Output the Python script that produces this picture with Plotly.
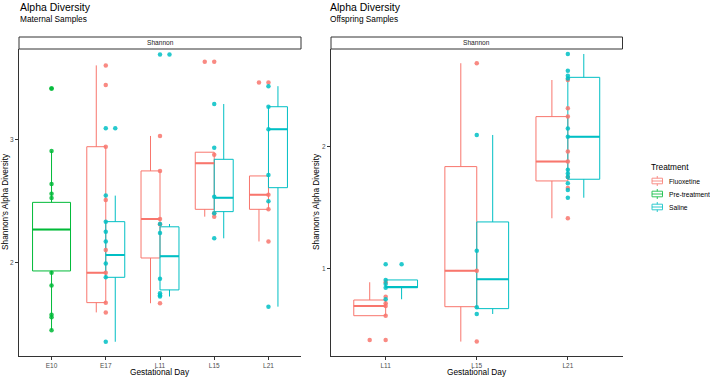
import plotly.graph_objects as go

# ---------------- data ----------------
treatments = ["Fluoxetine", "Pre-treatment", "Saline"]
colors = {"Fluoxetine": "#F8766D", "Pre-treatment": "#00BA38", "Saline": "#00BFC4"}

# Maternal samples
mat_days = ["E10", "E17", "L11", "L15", "L21"]
mat_pre_days = ["E10"]
mat_pre_q1 = [1.929]
mat_pre_med = [2.267]
mat_pre_q3 = [2.49]
mat_pre_lo = [1.444]
mat_pre_hi = [2.91]
mat_pre_pts = [[3.42, 2.91, 2.64, 2.56, 2.526, 1.915, 1.81, 1.57, 1.55, 1.444]]

mat_flx_days = ["E17", "L11", "L15", "L21"]
mat_flx_q1 = [1.67, 2.035, 2.433, 2.433]
mat_flx_med = [1.915, 2.354, 2.81, 2.553]
mat_flx_q3 = [2.945, 2.747, 2.90, 2.706]
mat_flx_lo = [1.59, 1.665, 2.373, 2.17]
mat_flx_hi = [3.61, 3.033, 2.90, 2.706]
mat_flx_pts = [
    [3.61, 3.45, 2.945, 2.51, 2.10, 1.915, 1.67, 1.59],
    [3.033, 2.747, 2.354, 2.31, 1.665],
    [3.64, 2.88, 2.40, 2.373],
    [3.47, 2.553, 2.433, 2.17],
]

mat_sal_days = ["E17", "L11", "L15", "L21"]
mat_sal_q1 = [1.877, 1.774, 2.414, 2.61]
mat_sal_med = [2.06, 2.05, 2.528, 3.087]
mat_sal_q3 = [2.332, 2.29, 2.842, 3.272]
mat_sal_lo = [1.35, 1.72, 2.196, 1.637]
mat_sal_hi = [2.545, 2.313, 3.294, 3.44]
mat_sal_pts = [
    [3.095, 2.545, 2.332, 2.25, 2.17, 1.99, 1.877, 1.35],
    [3.70, 2.313, 2.24, 1.866, 1.746, 1.73, 1.72],
    [3.294, 2.937, 2.536, 2.40, 2.196],
    [3.44, 3.272, 3.087, 2.714, 2.50, 1.637],
]

# Offspring samples
off_days = ["L11", "L15", "L21"]
off_flx_days = ["L11", "L15", "L21"]
off_flx_q1 = [0.61, 0.684, 1.718]
off_flx_med = [0.69, 0.98, 1.877]
off_flx_q3 = [0.739, 1.836, 2.247]
off_flx_lo = [0.61, 0.397, 1.411]
off_flx_hi = [0.885, 2.686, 2.548]
off_flx_pts = [
    [0.885, 0.766, 0.712, 0.69, 0.61, 0.41],
    [2.686, 0.98, 0.397],
    [2.548, 2.315, 2.247, 1.96, 1.877, 1.75, 1.66, 1.411],
]

off_sal_days = ["L11", "L15", "L21"]
off_sal_q1 = [0.84, 0.668, 1.732]
off_sal_med = [0.845, 0.909, 2.082]
off_sal_q3 = [0.904, 1.381, 2.57]
off_sal_lo = [0.745, 0.624, 1.58]
off_sal_hi = [0.904, 2.096, 2.762]
off_sal_pts = [
    [1.033, 0.904, 0.87, 0.84, 0.745],
    [2.096, 1.145, 0.68, 0.624],
    [2.762, 2.625, 2.584, 2.56, 2.15, 2.082, 1.81, 1.78, 1.75, 1.70, 1.644, 1.58],
]

# ---------------- figure ----------------
W, H = 710, 378
fig = go.Figure()

DODGE = 0.35
offsets = {"Fluoxetine": -DODGE / 2, "Pre-treatment": 0.0, "Saline": DODGE / 2}


def add_group(name, days, all_days, q1, med, q3, lo, hi, pts, xa, ya, alone=False):
    col = colors[name]
    idx = [all_days.index(d) for d in days]
    off = 0.0 if alone else offsets[name]
    w = 2 * DODGE if alone else DODGE
    pos = [i + off for i in idx]
    fig.add_trace(go.Box(
        x=pos, q1=q1, median=med, q3=q3, lowerfence=lo, upperfence=hi,
        width=w, whiskerwidth=0, boxpoints=False,
        line=dict(color=col, width=1), fillcolor="rgba(255,255,255,0)",
        name=name, legendgroup=name, showlegend=False,
        xaxis=xa, yaxis=ya, hoverinfo="skip",
    ))
    # thicker median segments
    mx, my = [], []
    for p, m in zip(pos, med):
        mx += [p - w / 2, p + w / 2, None]
        my += [m, m, None]
    fig.add_trace(go.Scatter(x=mx, y=my, mode="lines", line=dict(color=col, width=2),
                             showlegend=False, xaxis=xa, yaxis=ya, hoverinfo="skip"))
    # outliers at box centre
    ox, oy = [], []
    for p, l, h, vals in zip(pos, lo, hi, pts):
        for v in vals:
            if v > h + 1e-9 or v < l - 1e-9:
                ox.append(p)
                oy.append(v)
    # all points at category centre
    px, py = [], []
    for i, vals in zip(idx, pts):
        for v in vals:
            px.append(i)
            py.append(v)
    fig.add_trace(go.Scatter(x=ox + px, y=oy + py, mode="markers",
                             marker=dict(color=col, size=4.5, opacity=0.85, line=dict(width=0)),
                             showlegend=False, xaxis=xa, yaxis=ya, hoverinfo="skip"))


add_group("Fluoxetine", mat_flx_days, mat_days, mat_flx_q1, mat_flx_med, mat_flx_q3,
          mat_flx_lo, mat_flx_hi, mat_flx_pts, "x", "y")
add_group("Pre-treatment", mat_pre_days, mat_days, mat_pre_q1, mat_pre_med, mat_pre_q3,
          mat_pre_lo, mat_pre_hi, mat_pre_pts, "x", "y", alone=True)
add_group("Saline", mat_sal_days, mat_days, mat_sal_q1, mat_sal_med, mat_sal_q3,
          mat_sal_lo, mat_sal_hi, mat_sal_pts, "x", "y")
add_group("Fluoxetine", off_flx_days, off_days, off_flx_q1, off_flx_med, off_flx_q3,
          off_flx_lo, off_flx_hi, off_flx_pts, "x2", "y2")
add_group("Saline", off_sal_days, off_days, off_sal_q1, off_sal_med, off_sal_q3,
          off_sal_lo, off_sal_hi, off_sal_pts, "x2", "y2")

FONT = "Liberation Sans, Arial, sans-serif"
axis_common = dict(showline=True, linecolor="#333333", linewidth=1, ticks="outside",
                   ticklen=3, tickwidth=1, tickcolor="#333333",
                   tickfont=dict(size=6.5, color="#4D4D4D", family=FONT),
                   showgrid=False, zeroline=False, mirror=False)

L0, L1 = 19, 301
R0, R1 = 331, 622.5
TOP, BOT = 49, 355.7
ydom = [(H - BOT) / H, (H - TOP) / H]

fig.update_layout(
    width=W, height=H, autosize=False,
    margin=dict(l=0, r=0, t=0, b=0),
    paper_bgcolor="white", plot_bgcolor="white",
    font=dict(family=FONT, color="black"),
    xaxis=dict(axis_common, domain=[L0 / W, L1 / W], range=[-0.6, len(mat_days) - 0.4],
               tickvals=list(range(len(mat_days))), ticktext=mat_days, anchor="y"),
    yaxis=dict(axis_common, domain=ydom, range=[1.236, 3.744], tickvals=[2, 3],
               ticktext=["2", "3"], anchor="x"),
    xaxis2=dict(axis_common, domain=[R0 / W, R1 / W], range=[-0.6, len(off_days) - 0.4],
                tickvals=list(range(len(off_days))), ticktext=off_days, anchor="y2"),
    yaxis2=dict(axis_common, domain=ydom, range=[0.281, 2.803], tickvals=[1, 2],
                ticktext=["1", "2"], anchor="x2"),
    showlegend=False,
)


def px_x(v):
    return v / W


def px_y(v):
    return (H - v) / H


# strips
for x0, x1 in [(L0, L1), (R0, R1)]:
    fig.add_shape(type="rect", xref="paper", yref="paper", x0=px_x(x0), x1=px_x(x1),
                  y0=px_y(TOP), y1=px_y(37), line=dict(color="#333333", width=1),
                  fillcolor="white", layer="above")
    fig.add_annotation(x=px_x((x0 + x1) / 2), y=px_y(43), xref="paper", yref="paper",
                       text="Shannon", showarrow=False, font=dict(size=6.6, color="#1A1A1A"),
                       xanchor="center", yanchor="middle")

# titles and subtitles
for x0, sub in [(L0 + 1, "Maternal Samples"), (R0 - 1, "Offspring Samples")]:
    fig.add_annotation(x=px_x(x0 - 2), y=px_y(6.5), xref="paper", yref="paper",
                       text="Alpha Diversity", showarrow=False, font=dict(size=10.5),
                       xanchor="left", yanchor="middle")
    fig.add_annotation(x=px_x(x0 - 2), y=px_y(18.5), xref="paper", yref="paper",
                       text=sub, showarrow=False, font=dict(size=8.3),
                       xanchor="left", yanchor="middle")

# axis titles
for cx in [(L0 + L1) / 2, (R0 + R1) / 2]:
    fig.add_annotation(x=px_x(cx), y=px_y(372), xref="paper", yref="paper",
                       text="Gestational Day", showarrow=False, font=dict(size=8.3),
                       xanchor="center", yanchor="middle")
for cx in [5, 316]:
    fig.add_annotation(x=px_x(cx), y=px_y(202), xref="paper", yref="paper",
                       text="Shannon's Alpha Diversity", showarrow=False, font=dict(size=8.3),
                       textangle=-90, xanchor="center", yanchor="middle")

# legend (ggplot style keys)
fig.add_annotation(x=px_x(649), y=px_y(166.5), xref="paper", yref="paper",
                   text="Treatment", showarrow=False, font=dict(size=8.3),
                   xanchor="left", yanchor="middle")
for k, name in enumerate(treatments):
    cy = 181 + 13 * k
    col = colors[name]
    fig.add_shape(type="rect", xref="paper", yref="paper",
                  x0=px_x(652), x1=px_x(662.5), y0=px_y(cy + 2.8), y1=px_y(cy - 2.8),
                  line=dict(color=col, width=1), fillcolor="white", opacity=0.8)
    fig.add_shape(type="line", xref="paper", yref="paper",
                  x0=px_x(652), x1=px_x(662.5), y0=px_y(cy), y1=px_y(cy),
                  line=dict(color=col, width=1), opacity=0.8)
    for ya, yb in [(cy - 5, cy - 2.8), (cy + 2.8, cy + 5)]:
        fig.add_shape(type="line", xref="paper", yref="paper",
                      x0=px_x(657.25), x1=px_x(657.25), y0=px_y(ya), y1=px_y(yb),
                      line=dict(color=col, width=1), opacity=0.8)
    fig.add_annotation(x=px_x(667), y=px_y(cy), xref="paper", yref="paper",
                       text=name, showarrow=False, font=dict(size=6.7),
                       xanchor="left", yanchor="middle")

fig.write_html("out.html", config={"displayModeBar": False},
               post_script="document.body.style.margin='0';document.body.style.padding='0';")
